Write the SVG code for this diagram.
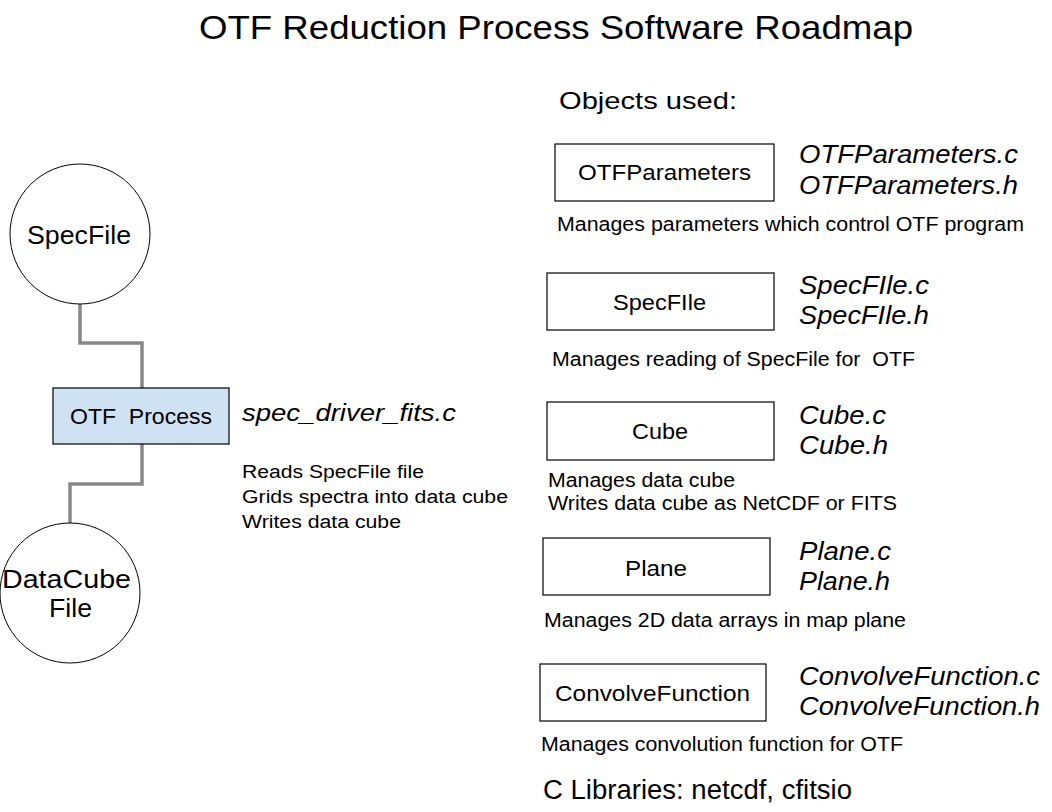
<svg xmlns="http://www.w3.org/2000/svg" width="1052" height="812" viewBox="0 0 1052 812">
<style>
text{font-family:"Liberation Sans",Arial,sans-serif;fill:#000;white-space:pre}
.it{font-style:italic}
.box{fill:#fff;stroke:#000;stroke-width:1.2}
.circ{fill:#fff;stroke:#000;stroke-width:1}
.conn{fill:none;stroke:#888;stroke-width:3.5}
</style>
<rect width="1052" height="812" fill="#fff"/>
<text id="title" x="199" y="39" font-size="33" textLength="714" lengthAdjust="spacingAndGlyphs">OTF Reduction Process Software Roadmap</text>
<text x="559" y="109" font-size="24" textLength="178" lengthAdjust="spacingAndGlyphs">Objects used:</text>

<g id="connectors">
<polyline class="conn" points="80,303 80,343 142,343 142,388"/>
<polyline class="conn" points="142,444 142,484 70,484 70,523"/>
</g>

<g id="specfile">
<circle class="circ" cx="80" cy="234" r="70"/>
<text x="27" y="244" font-size="25" textLength="104" lengthAdjust="spacingAndGlyphs">SpecFile</text>
</g>

<g id="otfprocess">
<rect x="53" y="388" width="176" height="56" fill="#cfe2f3" stroke="#000" stroke-width="1.2"/>
<text x="70" y="424" font-size="22" textLength="142" lengthAdjust="spacingAndGlyphs" xml:space="preserve">OTF  Process</text>
</g>

<g id="datacube">
<circle class="circ" cx="70" cy="593" r="70"/>
<text x="2" y="588" font-size="26" textLength="129" lengthAdjust="spacingAndGlyphs">DataCube</text>
<text x="49" y="617" font-size="26" textLength="43" lengthAdjust="spacingAndGlyphs">File</text>
</g>

<g id="otfprocess-desc">
<text class="it" x="242" y="421" font-size="23" textLength="214" lengthAdjust="spacingAndGlyphs">spec_driver_fits.c</text>
<text x="242" y="478" font-size="18" textLength="182" lengthAdjust="spacingAndGlyphs">Reads SpecFile file</text>
<text x="242" y="503" font-size="18" textLength="266" lengthAdjust="spacingAndGlyphs">Grids spectra into data cube</text>
<text x="242" y="528" font-size="18" textLength="159" lengthAdjust="spacingAndGlyphs">Writes data cube</text>
</g>

<g id="otfparameters">
<rect class="box" x="555" y="144" width="219" height="57"/>
<text x="578" y="180" font-size="22" textLength="173" lengthAdjust="spacingAndGlyphs">OTFParameters</text>
<text class="it" x="799" y="163" font-size="25" textLength="219" lengthAdjust="spacingAndGlyphs">OTFParameters.c</text>
<text class="it" x="799" y="194" font-size="25" textLength="219" lengthAdjust="spacingAndGlyphs">OTFParameters.h</text>
<text x="557" y="231" font-size="19.5" textLength="467" lengthAdjust="spacingAndGlyphs">Manages parameters which control OTF program</text>
</g>

<g id="specfile-obj">
<rect class="box" x="547" y="273" width="227" height="57"/>
<text x="613" y="310" font-size="22" textLength="93" lengthAdjust="spacingAndGlyphs">SpecFIle</text>
<text class="it" x="799" y="294" font-size="25" textLength="130" lengthAdjust="spacingAndGlyphs">SpecFIle.c</text>
<text class="it" x="799" y="324" font-size="25" textLength="130" lengthAdjust="spacingAndGlyphs">SpecFIle.h</text>
<text x="552" y="366" font-size="19.5" textLength="363" lengthAdjust="spacingAndGlyphs" xml:space="preserve">Manages reading of SpecFile for  OTF</text>
</g>

<g id="cube">
<rect class="box" x="547" y="402" width="227" height="58"/>
<text x="632" y="439" font-size="22" textLength="56" lengthAdjust="spacingAndGlyphs">Cube</text>
<text class="it" x="799" y="424" font-size="25" textLength="87" lengthAdjust="spacingAndGlyphs">Cube.c</text>
<text class="it" x="799" y="454" font-size="25" textLength="89" lengthAdjust="spacingAndGlyphs">Cube.h</text>
<text x="548" y="487" font-size="19.5" textLength="187" lengthAdjust="spacingAndGlyphs">Manages data cube</text>
<text x="548" y="510" font-size="19.5" textLength="349" lengthAdjust="spacingAndGlyphs">Writes data cube as NetCDF or FITS</text>
</g>

<g id="plane">
<rect class="box" x="543" y="538" width="227" height="57"/>
<text x="625" y="576" font-size="22" textLength="62" lengthAdjust="spacingAndGlyphs">Plane</text>
<text class="it" x="799" y="560" font-size="25" textLength="92" lengthAdjust="spacingAndGlyphs">Plane.c</text>
<text class="it" x="799" y="590" font-size="25" textLength="91" lengthAdjust="spacingAndGlyphs">Plane.h</text>
<text x="544" y="627" font-size="19.5" textLength="362" lengthAdjust="spacingAndGlyphs">Manages 2D data arrays in map plane</text>
</g>

<g id="convolvefunction">
<rect class="box" x="540" y="664" width="226" height="57"/>
<text x="555" y="701" font-size="22" textLength="195" lengthAdjust="spacingAndGlyphs">ConvolveFunction</text>
<text class="it" x="799" y="685" font-size="25" textLength="241" lengthAdjust="spacingAndGlyphs">ConvolveFunction.c</text>
<text class="it" x="799" y="715" font-size="25" textLength="241" lengthAdjust="spacingAndGlyphs">ConvolveFunction.h</text>
<text x="541" y="751" font-size="19.5" textLength="362" lengthAdjust="spacingAndGlyphs">Manages convolution function for OTF</text>
</g>

<text x="543" y="799" font-size="27" textLength="309" lengthAdjust="spacingAndGlyphs">C Libraries: netcdf, cfitsio</text>
</svg>
